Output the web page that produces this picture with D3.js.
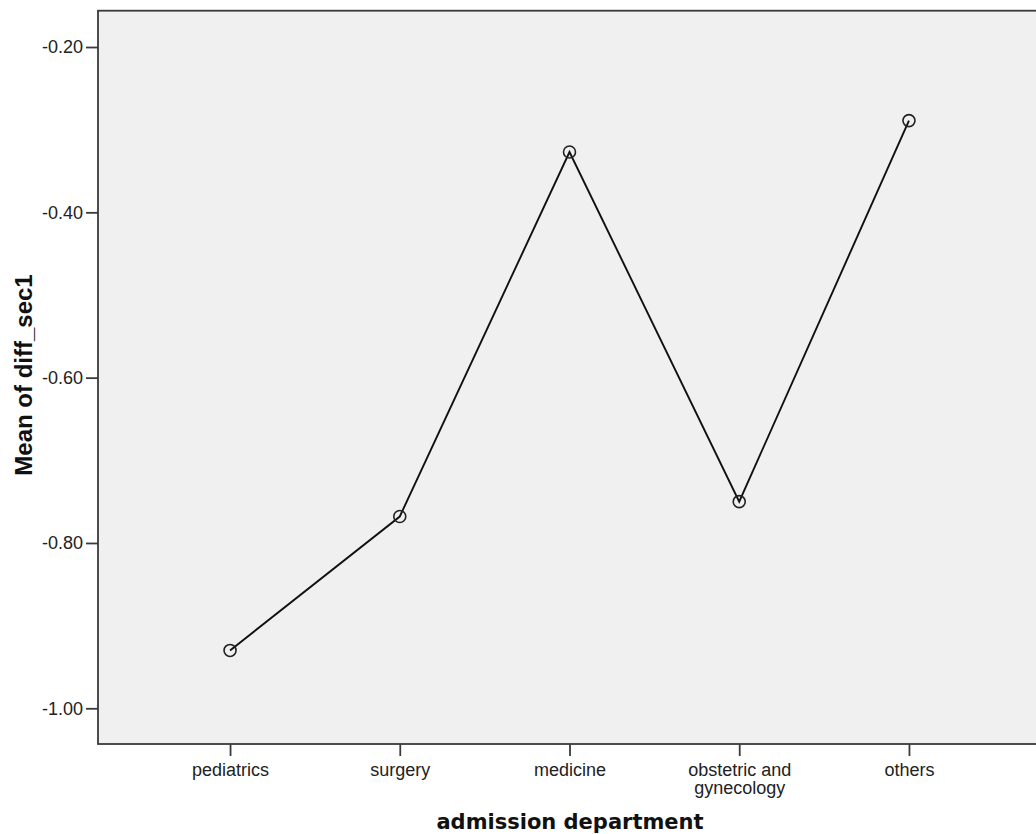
<!DOCTYPE html>
<html>
<head>
<meta charset="utf-8">
<script src="https://cdnjs.cloudflare.com/ajax/libs/d3/7.8.5/d3.min.js"></script>
<style>
  html, body { margin: 0; padding: 0; background: #ffffff; overflow: hidden; }
  svg { display: block; }
</style>
</head>
<body>
<svg id="chart" width="1036" height="834"></svg>
<script>
// Mean of diff_sec1 by admission department
const departments = ["pediatrics", "surgery", "medicine", "obstetric and gynecology", "others"];
const departmentLabels = [["pediatrics"], ["surgery"], ["medicine"], ["obstetric and", "gynecology"], ["others"]];
const meanValues = [-0.930, -0.768, -0.327, -0.750, -0.289];
const yTickValues = [-1.00, -0.80, -0.60, -0.40, -0.20];

const svg = d3.select("#chart");

const plot = { left: 98, top: 10.7, right: 1041, bottom: 744 };

const x = d3.scalePoint()
  .domain(departments)
  .range([plot.left, plot.right])
  .padding(0.778);

const y = d3.scaleLinear()
  .domain([-1.0432, -0.15607])
  .range([plot.bottom, plot.top]);

// plot background
svg.append("rect")
  .attr("x", plot.left)
  .attr("y", plot.top)
  .attr("width", plot.right - plot.left)
  .attr("height", plot.bottom - plot.top)
  .attr("fill", "#f0f0f0")
  .attr("stroke", "#3a3a3a")
  .attr("stroke-width", 1.8);

// y axis, plain hyphen for negative numbers
const fmt = d3.format(".2f");
const yAxis = d3.axisLeft(y)
  .tickValues(yTickValues)
  .tickFormat(d => fmt(d).replace("\u2212", "-"))
  .tickSize(12)
  .tickPadding(3);

const gy = svg.append("g")
  .attr("transform", `translate(${plot.left},0)`)
  .call(yAxis);
gy.select(".domain").remove();
gy.selectAll(".tick line").attr("stroke", "#3a3a3a").attr("stroke-width", 1.8);
gy.selectAll(".tick text")
  .attr("fill", "#222")
  .style("font-family", "'Liberation Sans', Arial, sans-serif")
  .style("font-size", "18px");

// x axis
const xAxis = d3.axisBottom(x)
  .tickSize(12)
  .tickFormat("");

const gx = svg.append("g")
  .attr("transform", `translate(0,${plot.bottom})`)
  .call(xAxis);
gx.select(".domain").remove();
gx.selectAll(".tick line").attr("stroke", "#3a3a3a").attr("stroke-width", 1.8);

gx.selectAll(".tick").each(function(d, i) {
  const t = d3.select(this).append("text")
    .attr("text-anchor", "middle")
    .attr("fill", "#222")
    .style("font-family", "'Liberation Sans', Arial, sans-serif")
    .style("font-size", "18px");
  departmentLabels[i].forEach((line, k) => {
    t.append("tspan").attr("x", 0).attr("y", 32 + k * 18).text(line);
  });
});

// line and markers
const line = d3.line()
  .x((d, i) => x(departments[i]))
  .y(d => y(d));

svg.append("path")
  .datum(meanValues)
  .attr("d", line)
  .attr("fill", "none")
  .attr("stroke", "#111")
  .attr("stroke-width", 1.9);

svg.selectAll("circle.marker")
  .data(meanValues)
  .join("circle")
  .attr("class", "marker")
  .attr("cx", (d, i) => x(departments[i]))
  .attr("cy", d => y(d))
  .attr("r", 6)
  .attr("fill", "none")
  .attr("stroke", "#222")
  .attr("stroke-width", 1.6);

// axis titles
svg.append("text")
  .attr("x", 570)
  .attr("y", 829)
  .attr("text-anchor", "middle")
  .attr("fill", "#111")
  .style("font-family", "'DejaVu Sans', Verdana, sans-serif")
  .style("font-weight", "bold")
  .style("font-size", "21px")
  .text("admission department");

svg.append("text")
  .attr("transform", `translate(32,375) rotate(-90)`)
  .attr("text-anchor", "middle")
  .attr("fill", "#111")
  .style("font-family", "'Liberation Sans', Arial, sans-serif")
  .style("font-weight", "bold")
  .style("font-size", "24px")
  .text("Mean of diff_sec1");
</script>
</body>
</html>
